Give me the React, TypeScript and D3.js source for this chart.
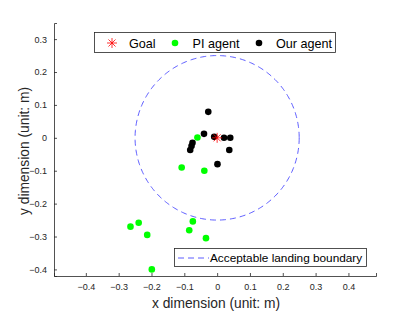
import React, { useEffect, useRef } from "react";
import * as d3 from "d3";

const goal = [[0, 0]];
const piAgent = [
  [-0.06, 0.001], [-0.108, -0.09], [-0.039, -0.1],
  [-0.264, -0.27], [-0.239, -0.258], [-0.213, -0.295],
  [-0.074, -0.254], [-0.085, -0.281], [-0.034, -0.305], [-0.199, -0.4],
];
const ourAgent = [
  [-0.027, 0.079], [-0.04, 0.012], [-0.009, 0.003], [0.021, 0], [0.04, 0],
  [0.037, -0.037], [-0.075, -0.015], [-0.078, -0.025], [-0.082, -0.037], [0.001, -0.08],
];
const boundaryRadius = 0.25;
const xTicks = [-0.4, -0.3, -0.2, -0.1, 0, 0.1, 0.2, 0.3, 0.4];
const yTicks = [-0.4, -0.3, -0.2, -0.1, 0, 0.1, 0.2, 0.3];

export default function App() {
  const ref = useRef<SVGSVGElement>(null);

  useEffect(() => {
    const svg = d3.select(ref.current);
    svg.selectAll("*").remove();
    const font = "Liberation Sans, Arial, sans-serif";

    const x = d3.scaleLinear().domain([-0.497, 0.484]).range([54, 376]);
    const y = d3.scaleLinear().domain([-0.42, 0.349]).range([276, 23]);

    const g = svg.append("g");

    // boundary circle
    const circ = d3.range(0, 361).map(a => [boundaryRadius * Math.cos(a * Math.PI / 180), boundaryRadius * Math.sin(a * Math.PI / 180)]);
    g.append("path")
      .attr("d", d3.line().x(d => x(d[0])).y(d => y(d[1]))(circ as [number, number][]))
      .attr("fill", "none").attr("stroke", "#3333ff").attr("stroke-width", 0.8)
      .attr("stroke-dasharray", "6,4");

    // axes
    const xAxis = g.append("g").attr("transform", `translate(0,${y.range()[0]})`)
      .call(d3.axisBottom(x).tickValues(xTicks).tickSize(-3).tickPadding(8).tickFormat(d3.format("")));
    const yAxis = g.append("g").attr("transform", `translate(${x.range()[0]},0)`)
      .call(d3.axisLeft(y).tickValues(yTicks).tickSize(-3).tickPadding(7).tickFormat(d3.format("")));
    [xAxis, yAxis].forEach(a => {
      a.select(".domain").attr("stroke", "#262626").attr("stroke-width", 0.8);
      a.selectAll(".tick line").attr("stroke", "#262626").attr("stroke-width", 0.8);
      a.selectAll(".tick text").attr("fill", "#262626").attr("font-size", 9).attr("font-family", font);
    });

    // points
    g.selectAll(".pi").data(piAgent).join("circle")
      .attr("cx", d => x(d[0])).attr("cy", d => y(d[1])).attr("r", 3.3).attr("fill", "#00ff00");
    g.selectAll(".our").data(ourAgent).join("circle")
      .attr("cx", d => x(d[0])).attr("cy", d => y(d[1])).attr("r", 3.3).attr("fill", "#000");

    const star = (sel: any, cx: number, cy: number, s: number) => {
      const p = sel.append("g").attr("transform", `translate(${cx},${cy})`)
        .attr("stroke", "#ff0000").attr("stroke-width", 0.8);
      [0, 45, 90, 135].forEach(a => {
        const r = a * Math.PI / 180;
        p.append("line").attr("x1", -s * Math.cos(r)).attr("y1", -s * Math.sin(r))
          .attr("x2", s * Math.cos(r)).attr("y2", s * Math.sin(r));
      });
    };
    goal.forEach(d => star(g, x(d[0]), y(d[1]), 5));

    // legend 1
    const l1 = g.append("g");
    l1.append("rect").attr("x", 94.5).attr("y", 32.5).attr("width", 241).attr("height", 20)
      .attr("fill", "#fff").attr("stroke", "#262626").attr("stroke-width", 0.8);
    star(l1, 112, 43, 5);
    l1.append("circle").attr("cx", 175).attr("cy", 43).attr("r", 3.3).attr("fill", "#00ff00");
    l1.append("circle").attr("cx", 259).attr("cy", 43).attr("r", 3.3).attr("fill", "#000");
    [["Goal", 129], ["PI agent", 192.5], ["Our agent", 276]].forEach(([t, px]) => {
      l1.append("text").attr("x", px as number).attr("y", 47.5).text(t as string)
        .attr("font-size", 12.6).attr("font-family", font).attr("fill", "#000");
    });

    // legend 2
    const l2 = g.append("g");
    l2.append("rect").attr("x", 174.5).attr("y", 248.5).attr("width", 192).attr("height", 18)
      .attr("fill", "#fff").attr("stroke", "#262626").attr("stroke-width", 0.8);
    l2.append("line").attr("x1", 178).attr("x2", 209).attr("y1", 258).attr("y2", 258)
      .attr("stroke", "#3333ff").attr("stroke-width", 0.8).attr("stroke-dasharray", "6,4");
    l2.append("text").attr("x", 210).attr("y", 262).text("Acceptable landing boundary")
      .attr("font-size", 11.8).attr("font-family", font).attr("fill", "#000");

    // axis labels
    g.append("text").attr("x", 216).attr("y", 308).attr("text-anchor", "middle")
      .text("x dimension (unit: m)").attr("font-size", 13.8).attr("font-family", font).attr("fill", "#262626");
    g.append("text").attr("transform", `translate(29,151) rotate(-90)`).attr("text-anchor", "middle")
      .text("y dimension (unit: m)").attr("font-size", 13.8).attr("font-family", font).attr("fill", "#262626");
  }, []);

  return (
    <svg ref={ref} width={415} height={312} style={{ position: "absolute", left: 0, top: 0, background: "#fff" }} />
  );
}
